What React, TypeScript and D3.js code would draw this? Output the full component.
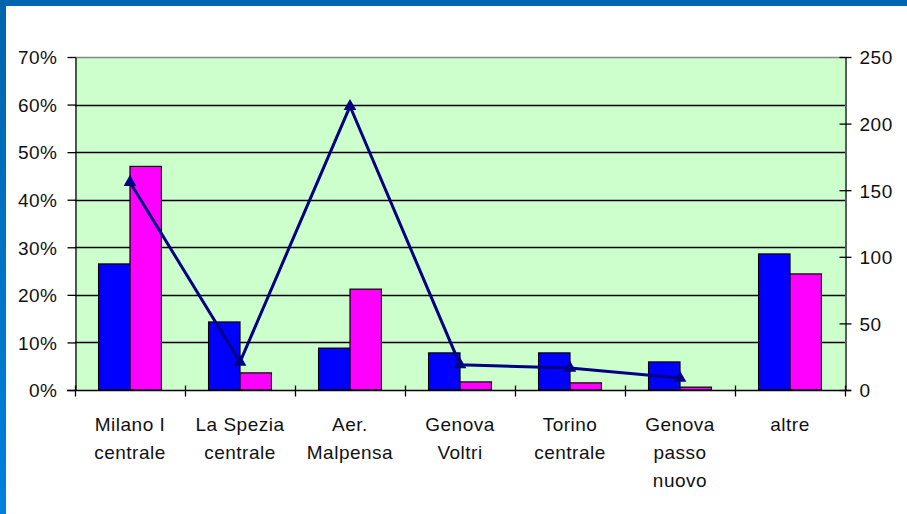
import { useEffect, useRef } from 'react';
import * as d3 from 'd3';

const categories = [
  'Milano I\ncentrale',
  'La Spezia\ncentrale',
  'Aer.\nMalpensa',
  'Genova\nVoltri',
  'Torino\ncentrale',
  'Genova\npasso\nnuovo',
  'altre',
];
const blueShare = [0.265, 0.143, 0.088, 0.078, 0.078, 0.059, 0.286];
const pinkShare = [0.47, 0.036, 0.212, 0.017, 0.015, 0.006, 0.244];
const lineCount: (number | null)[] = [156, 21, 213, 19, 16.5, 9, null];
const leftTicks = [0, 0.1, 0.2, 0.3, 0.4, 0.5, 0.6, 0.7];
const rightTicks = [0, 50, 100, 150, 200, 250];

const W = 907;
const H = 514;

const App = () => {
  const svgRef = useRef<SVGSVGElement>(null);

  useEffect(() => {
    if (!svgRef.current) return;
    const svg = d3.select(svgRef.current);
    svg.selectAll('*').remove();

    const left = 75, right = 845, top = 57, bottom = 390;
    const font = '"Liberation Sans", Arial, sans-serif';
    const fs = 19;
    const ls = 0.5;

    // frame
    const grad = svg.append('defs').append('linearGradient')
      .attr('id', 'sideGrad').attr('x1', 0).attr('y1', 0).attr('x2', 0).attr('y2', 1);
    grad.append('stop').attr('offset', '0%').attr('stop-color', '#0064aa');
    grad.append('stop').attr('offset', '100%').attr('stop-color', '#0080dd');
    svg.append('rect').attr('width', W).attr('height', H).attr('fill', '#fff');
    svg.append('rect').attr('width', W).attr('height', 6).attr('fill', '#0066ad');
    svg.append('rect').attr('width', 6).attr('height', H).attr('fill', 'url(#sideGrad)');

    const x = d3.scaleBand().domain(categories).range([left, right]);
    const inner = d3.scaleBand().domain(['a', 'b']).range([0, x.bandwidth()])
      .paddingInner(0).paddingOuter(0.75);
    const yL = d3.scaleLinear().domain([0, 0.7]).range([bottom, top]);
    const yR = d3.scaleLinear().domain([0, 250]).range([bottom, top]);

    // plot background
    svg.append('rect')
      .attr('x', left).attr('y', top)
      .attr('width', right - left).attr('height', bottom - top)
      .attr('fill', '#ccffcc');

    // gridlines
    svg.append('g').selectAll('line')
      .data(leftTicks.slice(1))
      .enter().append('line')
      .attr('x1', left).attr('x2', right)
      .attr('y1', d => Math.round(yL(d)) + 0.5).attr('y2', d => Math.round(yL(d)) + 0.5)
      .attr('stroke', d => (d === 0.7 ? '#888' : '#000')).attr('stroke-width', 1.3);

    // bars
    const groups = svg.append('g').selectAll('g')
      .data(categories)
      .enter().append('g')
      .attr('transform', d => `translate(${x(d)},0)`);

    groups.append('rect')
      .attr('x', inner('a') || 0)
      .attr('y', (_, i) => yL(blueShare[i]))
      .attr('width', inner.bandwidth())
      .attr('height', (_, i) => bottom - yL(blueShare[i]))
      .attr('fill', '#0000ff').attr('stroke', '#000').attr('stroke-width', 1.2);

    groups.append('rect')
      .attr('x', inner('b') || 0)
      .attr('y', (_, i) => yL(pinkShare[i]))
      .attr('width', inner.bandwidth())
      .attr('height', (_, i) => bottom - yL(pinkShare[i]))
      .attr('fill', '#ff00ff').attr('stroke', '#000').attr('stroke-width', 1.2);

    // left axis
    const gl = svg.append('g').attr('transform', `translate(${left + 0.5},0)`);
    gl.call(d3.axisLeft(yL).tickValues(leftTicks).tickSize(8).tickSizeOuter(0)
      .tickFormat(d => `${Math.round(+d * 100)}%`));
    gl.select('.domain').attr('stroke', '#000').attr('stroke-width', 1.3);
    gl.selectAll('.tick line').attr('stroke', '#000').attr('stroke-width', 1.3);
    gl.selectAll('.tick text')
      .attr('x', -18).attr('dy', '0.36em')
      .attr('font-family', font).attr('font-size', fs).attr('letter-spacing', ls)
      .attr('fill', '#111');

    // right axis
    const gr = svg.append('g').attr('transform', `translate(${right + 0.5},0)`);
    gr.call(d3.axisRight(yR).tickValues(rightTicks).tickSize(6).tickSizeOuter(0));
    gr.select('.domain').attr('stroke', '#000').attr('stroke-width', 1.3);
    gr.selectAll('.tick line').attr('x1', -6).attr('stroke', '#000').attr('stroke-width', 1.3);
    gr.selectAll('.tick text')
      .attr('x', 14).attr('dy', '0.36em')
      .attr('font-family', font).attr('font-size', fs).attr('letter-spacing', ls)
      .attr('fill', '#111');

    // bottom axis
    const gb = svg.append('g').attr('transform', `translate(0,${bottom + 0.5})`);
    gb.append('line').attr('x1', left - 8).attr('x2', right + 6)
      .attr('stroke', '#000').attr('stroke-width', 1.5);
    gb.selectAll('.tk')
      .data([...categories.map(c => x(c) || 0), right])
      .enter().append('line')
      .attr('x1', d => d + 0.5).attr('x2', d => d + 0.5)
      .attr('y1', -5).attr('y2', 6)
      .attr('stroke', '#000').attr('stroke-width', 1.3);

    const labels = gb.selectAll('.lbl')
      .data(categories)
      .enter().append('text')
      .attr('x', d => (x(d) || 0) + x.bandwidth() / 2)
      .attr('y', 40)
      .attr('text-anchor', 'middle')
      .attr('font-family', font).attr('font-size', fs).attr('letter-spacing', ls)
      .attr('fill', '#111');
    labels.selectAll('tspan')
      .data(d => d.split('\n').map(t => ({ t, c: d })))
      .enter().append('tspan')
      .attr('x', d => (x(d.c) || 0) + x.bandwidth() / 2)
      .attr('dy', (_, i) => (i === 0 ? 0 : 28))
      .text(d => d.t);

    // line series
    const pts = categories
      .map((c, i) => ({ c, v: lineCount[i] }))
      .filter(d => d.v !== null) as { c: string; v: number }[];
    const line = d3.line<{ c: string; v: number }>()
      .x(d => (x(d.c) || 0) + x.bandwidth() / 2)
      .y(d => yR(d.v));
    svg.append('path').datum(pts)
      .attr('d', line)
      .attr('fill', 'none').attr('stroke', '#000080').attr('stroke-width', 3);
    svg.append('g').selectAll('path')
      .data(pts)
      .enter().append('path')
      .attr('transform', d => `translate(${(x(d.c) || 0) + x.bandwidth() / 2},${yR(d.v)})`)
      .attr('d', d3.symbol().type(d3.symbolTriangle).size(70)())
      .attr('fill', '#000080');
  }, []);

  return (
    <div style={{ position: 'fixed', left: 0, top: 0, width: W, height: H }}>
      <svg ref={svgRef} width={W} height={H} />
    </div>
  );
};

export default App;
